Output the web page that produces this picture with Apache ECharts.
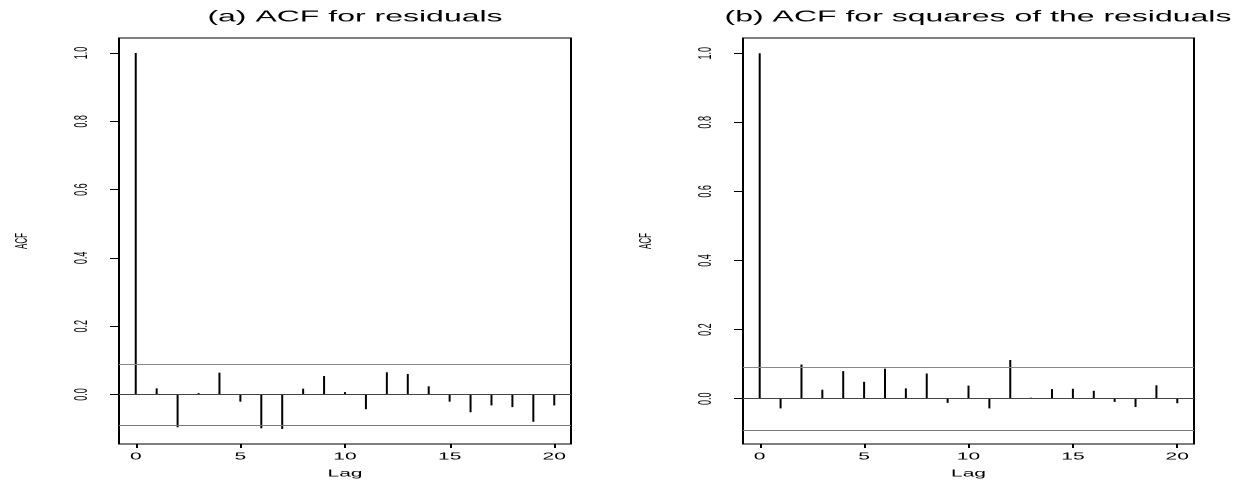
<!DOCTYPE html>
<html>
<head>
<meta charset="utf-8">
<script src="https://cdn.jsdelivr.net/npm/echarts@6/dist/echarts.min.js"></script>
<style>
  html, body { margin: 0; padding: 0; background: #fff; overflow: hidden; }
  /* the reference is an R plot stretched sideways, so draw at half width and stretch */
  #chart { width: 624px; height: 480px; transform: scaleX(2); transform-origin: 0 0; }
</style>
</head>
<body>
<div id="chart"></div>
<script>
var lags = [0, 1, 2, 3, 4, 5, 6, 7, 8, 9, 10, 11, 12, 13, 14, 15, 16, 17, 18, 19, 20];
var acfResid = [1.0, 0.018, -0.096, 0.004, 0.064, -0.021, -0.099, -0.101, 0.017, 0.054, 0.007,
  -0.043, 0.065, 0.060, 0.024, -0.021, -0.052, -0.032, -0.037, -0.080, -0.032];
var acfSquares = [1.0, -0.028, 0.099, 0.026, 0.080, 0.049, 0.087, 0.030, 0.073, -0.012, 0.038,
  -0.028, 0.112, 0.003, 0.028, 0.029, 0.023, -0.009, -0.024, 0.039, -0.013];
var confBound = 0.0877;
var lagTicks = [0, 5, 10, 15, 20];
var acfTicks = [0, 0.2, 0.4, 0.6, 0.8, 1.0];
var titles = ['(a) ACF for residuals', '(b) ACF for squares of the residuals'];

var font = 'Liberation Sans, Arial, sans-serif';
// render at 2x so the sideways stretch keeps the thin spikes sharp
var chart = echarts.init(document.getElementById('chart'), null, { devicePixelRatio: 2 });

function pairs(vals) {
  return lags.map(function (l, i) { return [l, vals[i]]; });
}

function xAx(idx) {
  return {
    type: 'value', gridIndex: idx, min: -0.8, max: 20.8,
    name: 'Lag', nameLocation: 'middle', nameGap: 24,
    nameTextStyle: { fontFamily: font, fontSize: 10.5, color: '#000' },
    axisLine: { show: false, onZero: false },
    splitLine: { show: false },
    axisTick: { show: true, customValues: lagTicks, length: 4, lineStyle: { color: '#000' } },
    axisLabel: { customValues: lagTicks, fontFamily: font, fontSize: 10.5, color: '#000', margin: 7 }
  };
}

function yAx(idx, lo) {
  return {
    type: 'value', gridIndex: idx, min: lo, max: 1.044,
    name: 'ACF', nameLocation: 'middle', nameGap: 44, nameRotate: 90,
    nameTextStyle: { fontFamily: font, fontSize: 8, color: '#000' },
    axisLine: { show: false, onZero: false },
    splitLine: { show: false },
    axisTick: { show: true, customValues: acfTicks, length: 4.5, lineStyle: { color: '#000' } },
    axisLabel: {
      customValues: acfTicks, rotate: 90, fontFamily: font, fontSize: 9, color: '#000', margin: 14,
      formatter: function (v) { return v.toFixed(1); }
    }
  };
}

function spikes(idx, vals) {
  return {
    type: 'bar', xAxisIndex: idx, yAxisIndex: idx, barWidth: 1,
    itemStyle: { color: '#000' },
    data: pairs(vals),
    markLine: {
      symbol: 'none', silent: true, label: { show: false },
      data: [
        { yAxis: 0, lineStyle: { color: '#444', width: 1, type: 'solid' } },
        { yAxis: confBound, lineStyle: { color: '#888', width: 1, type: 'solid' } },
        { yAxis: -confBound, lineStyle: { color: '#777', width: 1, type: 'solid' } }
      ]
    }
  };
}

var option = {
  animation: false,
  backgroundColor: '#fff',
  title: [
    { text: titles[0], left: 172.5, top: 4, textAlign: 'center',
      textStyle: { fontFamily: font, fontSize: 16, fontWeight: 'normal', color: '#000' } },
    { text: titles[1], left: 484, top: 4, textAlign: 'center',
      textStyle: { fontFamily: font, fontSize: 16, fontWeight: 'normal', color: '#000' } }
  ],
  grid: [
    { left: 59.5, right: 338.5, top: 38, bottom: 36, outerBoundsMode: 'none',
      show: true, borderColor: '#000', borderWidth: 1 },
    { left: 371.5, right: 27, top: 38, bottom: 36, outerBoundsMode: 'none',
      show: true, borderColor: '#000', borderWidth: 1 }
  ],
  xAxis: [xAx(0), xAx(1)],
  yAxis: [yAx(0, -0.145), yAx(1, -0.131)],
  series: [spikes(0, acfResid), spikes(1, acfSquares)]
};
chart.setOption(option);
</script>
</body>
</html>
